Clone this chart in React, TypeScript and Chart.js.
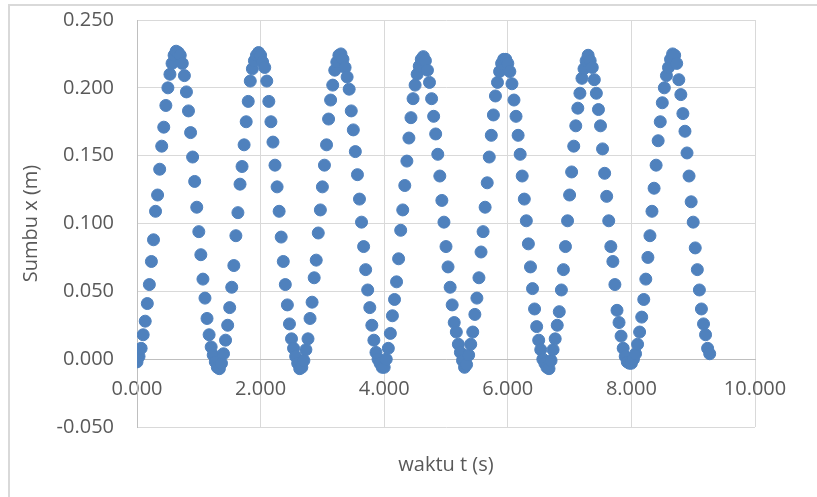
import React, { useEffect, useRef } from "react";
import { Chart, registerables } from "chart.js";

Chart.register(...registerables);

// waktu t (s)
const timeS = [
  0.000, 0.033, 0.067, 0.100, 0.133, 0.167, 0.200, 0.233, 0.267, 0.300,
  0.333, 0.367, 0.400, 0.433, 0.467, 0.500, 0.533, 0.567, 0.600, 0.633,
  0.667, 0.700, 0.733, 0.767, 0.800, 0.833, 0.867, 0.900, 0.933, 0.967,
  1.000, 1.033, 1.067, 1.100, 1.133, 1.167, 1.200, 1.233, 1.267, 1.300,
  1.333, 1.367, 1.400, 1.433, 1.467, 1.500, 1.533, 1.567, 1.600, 1.633,
  1.667, 1.700, 1.733, 1.767, 1.800, 1.833, 1.867, 1.900, 1.933, 1.967,
  2.000, 2.033, 2.067, 2.100, 2.133, 2.167, 2.200, 2.233, 2.267, 2.300,
  2.333, 2.367, 2.400, 2.433, 2.467, 2.500, 2.533, 2.567, 2.600, 2.633,
  2.667, 2.700, 2.733, 2.767, 2.800, 2.833, 2.867, 2.900, 2.933, 2.967,
  3.000, 3.033, 3.067, 3.100, 3.133, 3.167, 3.200, 3.233, 3.267, 3.300,
  3.333, 3.367, 3.400, 3.433, 3.467, 3.500, 3.533, 3.567, 3.600, 3.633,
  3.667, 3.700, 3.733, 3.767, 3.800, 3.833, 3.867, 3.900, 3.933, 3.967,
  4.000, 4.033, 4.067, 4.100, 4.133, 4.167, 4.200, 4.233, 4.267, 4.300,
  4.333, 4.367, 4.400, 4.433, 4.467, 4.500, 4.533, 4.567, 4.600, 4.633,
  4.667, 4.700, 4.733, 4.767, 4.800, 4.833, 4.867, 4.900, 4.933, 4.967,
  5.000, 5.033, 5.067, 5.100, 5.133, 5.167, 5.200, 5.233, 5.267, 5.300,
  5.333, 5.367, 5.400, 5.433, 5.467, 5.500, 5.533, 5.567, 5.600, 5.633,
  5.667, 5.700, 5.733, 5.767, 5.800, 5.833, 5.867, 5.900, 5.933, 5.967,
  6.000, 6.033, 6.067, 6.100, 6.133, 6.167, 6.200, 6.233, 6.267, 6.300,
  6.333, 6.367, 6.400, 6.433, 6.467, 6.500, 6.533, 6.567, 6.600, 6.633,
  6.667, 6.700, 6.733, 6.767, 6.800, 6.833, 6.867, 6.900, 6.933, 6.967,
  7.000, 7.033, 7.067, 7.100, 7.133, 7.167, 7.200, 7.233, 7.267, 7.300,
  7.333, 7.367, 7.400, 7.433, 7.467, 7.500, 7.533, 7.567, 7.600, 7.633,
  7.667, 7.700, 7.733, 7.767, 7.800, 7.833, 7.867, 7.900, 7.933, 7.967,
  8.000, 8.033, 8.067, 8.100, 8.133, 8.167, 8.200, 8.233, 8.267, 8.300,
  8.333, 8.367, 8.400, 8.433, 8.467, 8.500, 8.533, 8.567, 8.600, 8.633,
  8.667, 8.700, 8.733, 8.767, 8.800, 8.833, 8.867, 8.900, 8.933, 8.967,
  9.000, 9.033, 9.067, 9.100, 9.133, 9.167, 9.200, 9.233, 9.267,
];

// Sumbu x (m)
const posX = [
  -0.002, 0.002, 0.008, 0.018, 0.028, 0.041, 0.055, 0.072, 0.088, 0.109,
  0.121, 0.140, 0.157, 0.171, 0.187, 0.200, 0.210, 0.218, 0.224, 0.227,
  0.226, 0.224, 0.218, 0.209, 0.197, 0.183, 0.167, 0.149, 0.131, 0.112,
  0.094, 0.077, 0.059, 0.045, 0.030, 0.018, 0.009, 0.003, -0.002, -0.006,
  -0.007, -0.003, 0.004, 0.014, 0.025, 0.038, 0.053, 0.069, 0.091, 0.108,
  0.129, 0.142, 0.158, 0.175, 0.190, 0.205, 0.214, 0.220, 0.224, 0.226,
  0.224, 0.219, 0.215, 0.205, 0.190, 0.175, 0.160, 0.143, 0.127, 0.109,
  0.090, 0.072, 0.055, 0.040, 0.026, 0.015, 0.008, 0.002, -0.003, -0.007,
  -0.006, -0.001, 0.007, 0.015, 0.030, 0.042, 0.060, 0.073, 0.093, 0.110,
  0.127, 0.143, 0.158, 0.177, 0.191, 0.202, 0.213, 0.219, 0.224, 0.225,
  0.221, 0.215, 0.208, 0.199, 0.183, 0.169, 0.153, 0.136, 0.118, 0.101,
  0.083, 0.066, 0.051, 0.038, 0.025, 0.014, 0.005, 0.000, -0.003, -0.006,
  -0.006, 0.000, 0.008, 0.019, 0.032, 0.044, 0.057, 0.074, 0.095, 0.110,
  0.128, 0.146, 0.163, 0.178, 0.192, 0.202, 0.210, 0.216, 0.221, 0.223,
  0.220, 0.213, 0.204, 0.192, 0.179, 0.166, 0.151, 0.135, 0.117, 0.101,
  0.083, 0.068, 0.053, 0.040, 0.027, 0.020, 0.011, 0.005, -0.001, -0.006,
  -0.004, 0.003, 0.011, 0.020, 0.033, 0.045, 0.060, 0.079, 0.094, 0.112,
  0.130, 0.149, 0.165, 0.180, 0.194, 0.204, 0.212, 0.218, 0.221, 0.221,
  0.218, 0.212, 0.203, 0.191, 0.179, 0.165, 0.151, 0.135, 0.118, 0.102,
  0.085, 0.068, 0.052, 0.037, 0.024, 0.014, 0.007, 0.000, -0.003, -0.006,
  -0.007, -0.001, 0.007, 0.015, 0.025, 0.035, 0.051, 0.066, 0.083, 0.102,
  0.121, 0.138, 0.157, 0.172, 0.185, 0.196, 0.207, 0.214, 0.220, 0.224,
  0.220, 0.215, 0.206, 0.196, 0.184, 0.172, 0.155, 0.137, 0.120, 0.102,
  0.083, 0.072, 0.055, 0.036, 0.027, 0.017, 0.008, 0.002, -0.002, -0.003,
  -0.003, 0.000, 0.004, 0.011, 0.020, 0.031, 0.044, 0.059, 0.075, 0.091,
  0.109, 0.126, 0.143, 0.161, 0.175, 0.189, 0.200, 0.209, 0.215, 0.221,
  0.225, 0.224, 0.218, 0.206, 0.195, 0.181, 0.168, 0.152, 0.135, 0.116,
  0.101, 0.082, 0.066, 0.051, 0.037, 0.026, 0.018, 0.008, 0.004,
];

const xAxisTitle = "waktu t (s)";
const yAxisTitle = "Sumbu x (m)";

const FONT_FAMILY = "'Open Sans', 'DejaVu Sans', sans-serif";
const TEXT_COLOR = "#595959";
const POINT_COLOR = "#4F81BD";
const GRID_COLOR = "#d9d9d9";
const AXIS_COLOR = "#bfbfbf";

const fmt3 = (v: any) => {
  const n = Number(v);
  return (Math.abs(n) < 1e-9 ? 0 : n).toFixed(3);
};

export default function App() {
  const canvasRef = useRef<HTMLCanvasElement>(null);

  useEffect(() => {
    const canvas = canvasRef.current;
    if (!canvas) return;
    const points = timeS.map((t, i) => ({ x: t, y: posX[i] }));

    const xTitlePlugin = {
      id: "xTitleBelow",
      afterDraw(chart: any) {
        const { ctx, chartArea } = chart;
        ctx.save();
        ctx.font = `20px ${FONT_FAMILY}`;
        ctx.fillStyle = TEXT_COLOR;
        ctx.textAlign = "center";
        ctx.textBaseline = "middle";
        ctx.fillText(xAxisTitle, (chartArea.left + chartArea.right) / 2, 465);
        ctx.restore();
      },
    };

    const chart = new Chart(canvas, {
      type: "scatter",
      data: {
        datasets: [
          {
            data: points,
            backgroundColor: POINT_COLOR,
            borderColor: POINT_COLOR,
            pointRadius: 6,
            pointBorderWidth: 1,
            pointHoverRadius: 6,
          },
        ],
      },
      options: {
        responsive: false,
        animation: false,
        layout: { padding: { left: 0, top: 20, right: 62, bottom: 70 } },
        plugins: {
          legend: { display: false },
          tooltip: { enabled: false },
        },
        scales: {
          x: {
            type: "linear",
            position: { y: 0 } as any,
            min: 0,
            max: 10,
            ticks: {
              stepSize: 2,
              padding: 18,
              maxRotation: 0,
              color: TEXT_COLOR,
              font: { family: FONT_FAMILY, size: 20 },
              callback: fmt3,
            },
            grid: { color: GRID_COLOR, drawTicks: false, lineWidth: 1 },
            border: { color: AXIS_COLOR, width: 1 },
            afterFit: (scale: any) => {
              scale.paddingTop = 0;
              scale.paddingBottom = 0;
            },
          },
          y: {
            type: "linear",
            position: "left",
            min: -0.05,
            max: 0.25,
            ticks: {
              stepSize: 0.05,
              padding: 23,
              color: TEXT_COLOR,
              font: { family: FONT_FAMILY, size: 20 },
              callback: fmt3,
            },
            grid: { color: GRID_COLOR, drawTicks: false, lineWidth: 1 },
            border: { color: AXIS_COLOR, width: 1 },
            title: {
              display: true,
              text: yAxisTitle,
              color: TEXT_COLOR,
              font: { family: FONT_FAMILY, size: 20 },
              padding: { top: 19, bottom: 0 },
            },
            afterFit: (scale: any) => {
              scale.width = 137;
              scale.paddingTop = 0;
              scale.paddingBottom = 0;
            },
          },
        },
      },
      plugins: [xTitlePlugin],
    });

    return () => chart.destroy();
  }, []);

  return (
    <div
      style={{
        position: "fixed",
        left: 0,
        top: 0,
        width: 817,
        height: 497,
        overflow: "hidden",
        background: "#ffffff",
      }}
    >
      <div
        style={{
          position: "absolute",
          left: 8,
          top: 4,
          width: 1000,
          height: 1000,
          borderLeft: "2px solid #d9d9d9",
          borderTop: "2px solid #d9d9d9",
        }}
      />
      <canvas
        ref={canvasRef}
        width={817}
        height={497}
        style={{ position: "absolute", left: 0, top: 0, width: 817, height: 497 }}
      />
    </div>
  );
}
